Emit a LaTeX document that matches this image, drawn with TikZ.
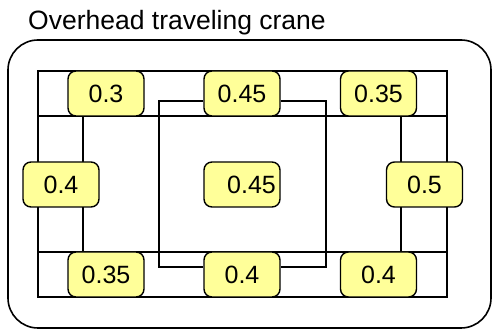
\documentclass[tikz,border=0pt]{standalone}
\usepackage{fontspec}
\setmainfont{Liberation Sans}
\begin{document}
\begin{tikzpicture}[x=1pt,y=1pt,
  valbox/.style={draw=black, line width=1.4pt, fill=boxyellow, rounded corners=8pt,
    minimum width=76pt, minimum height=45pt, inner sep=0pt,
    font=\fontsize{25}{30}\selectfont},
  rail/.style={draw=black, line width=1.4pt},
  frame/.style={draw=black, line width=1.6pt, rounded corners=30pt}]
\definecolor{boxyellow}{HTML}{FFFF99}
\useasboundingbox (0,0) rectangle (495,334);
% title
\node[anchor=base west, inner sep=0pt, font=\fontsize{26.5}{30}\selectfont] (title) at (28,304) {Overhead traveling crane};
% outer frame
\draw[frame] (8,294) rectangle (491,6);
% rails
\coordinate (tr1) at (38,263);
\coordinate (tr2) at (447,218);
\coordinate (br1) at (38,82);
\coordinate (br2) at (447,37);
\draw[rail] (tr1) rectangle (tr2);
\draw[rail] (br1) rectangle (br2);
% legs
\draw[rail] (38,218) -- (38,82);
\draw[rail] (83,218) -- (83,82);
\draw[rail] (401,218) -- (401,82);
\draw[rail] (447,218) -- (447,82);
% nodes
\node[valbox] (t1) at (106,240.5) {0.3};
\node[valbox] (t2) at (242,240.5) {0.45};
\node[valbox] (t3) at (378.5,240.5) {0.35};
\node[valbox] (m1) at (61,149.5) {0.4};
\node[valbox] (m2) at (242,149.5) {\hspace*{19pt}0.45};
\node[valbox] (m3) at (424.5,149.5) {0.5};
\node[valbox] (b1) at (106,59.5) {0.35};
\node[valbox] (b2) at (242,59.5) {0.4};
\node[valbox] (b3) at (378.5,59.5) {0.4};
% trolley loop
\draw[rail] ([yshift=-7.5pt]t2.west) -| (159,67) -- ([yshift=7.5pt]b2.west);
\draw[rail] ([yshift=-7.5pt]t2.east) -| (326,67) -- ([yshift=7.5pt]b2.east);
\end{tikzpicture}
\end{document}
